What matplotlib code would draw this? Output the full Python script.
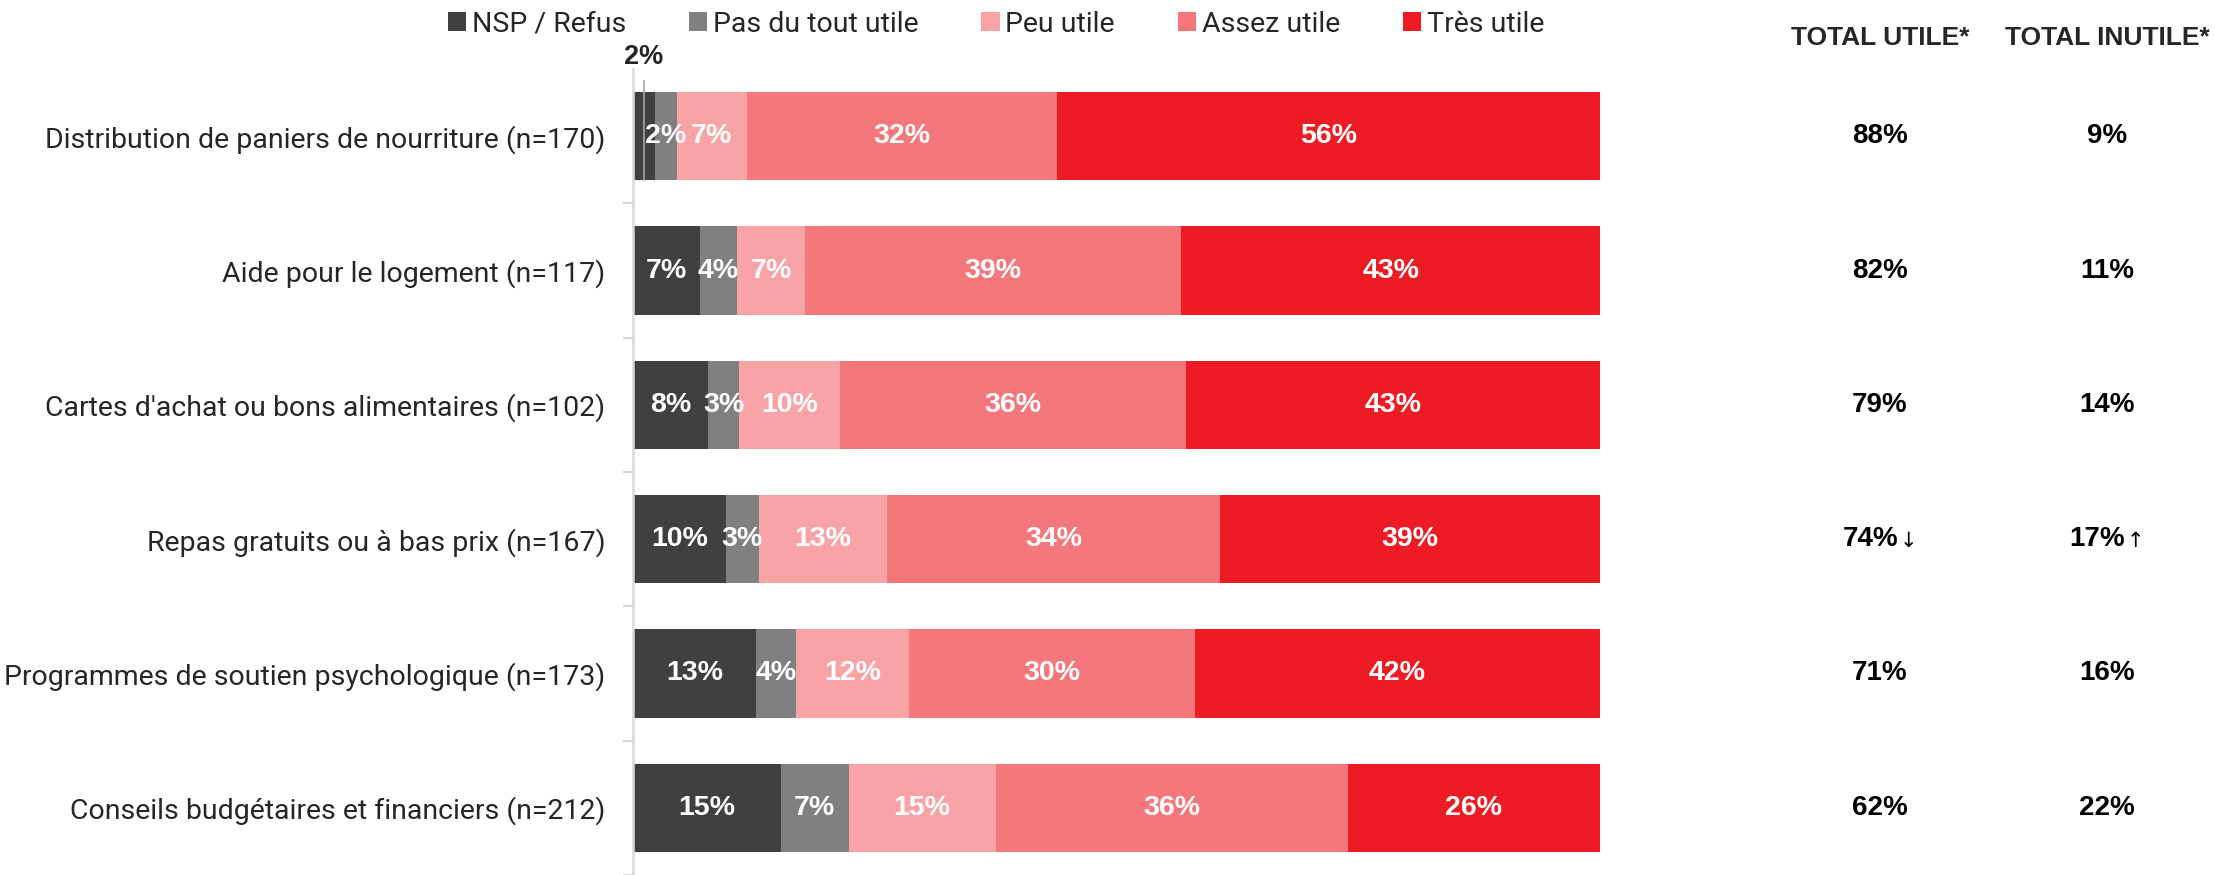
import matplotlib
matplotlib.use("Agg")
import matplotlib.pyplot as plt
import matplotlib.transforms as mtransforms
from matplotlib.patches import Patch

# data (percent of respondents)
categories = [
    "Distribution de paniers de nourriture (n=170)",
    "Aide pour le logement (n=117)",
    "Cartes d'achat ou bons alimentaires (n=102)",
    "Repas gratuits ou à bas prix (n=167)",
    "Programmes de soutien psychologique (n=173)",
    "Conseils budgétaires et financiers (n=212)",
]
series_names = ["NSP / Refus", "Pas du tout utile", "Peu utile", "Assez utile", "Très utile"]
nsp = [2.3, 6.9, 7.8, 9.6, 12.7, 15.3]
pas_du_tout = [2.2, 3.9, 3.2, 3.4, 4.2, 7.0]
peu = [7.3, 7.0, 10.4, 13.3, 11.6, 15.2]
assez = [32.0, 38.9, 35.8, 34.4, 29.6, 36.4]
tres = [56.2, 43.3, 42.8, 39.3, 41.9, 26.1]
total_utile = [88, 82, 79, 74, 71, 62]
total_inutile = [9, 11, 14, 17, 16, 22]
trend_utile = ["", "", "", "↓", "", ""]
trend_inutile = ["", "", "", "↑", "", ""]

colors = ["#404040", "#808080", "#f8a3a6", "#f4777b", "#ed1c24"]
W, H = 2215, 875

fig = plt.figure(figsize=(W / 100, H / 100), dpi=100)
ax = fig.add_axes([633 / W, 0.0, 967 / W, 806 / H])

series = [nsp, pas_du_tout, peu, assez, tres]
y = list(range(len(categories)))
left = [0.0] * len(categories)
for name, vals, col in zip(series_names, series, colors):
    ax.barh(y, vals, left=left, height=0.66, color=col, linewidth=0, label=name)
    for i, v in enumerate(vals):
        cx = left[i] + v / 2
        txt = "%d%%" % round(v)
        if name == "NSP / Refus" and v < 3:
            # too thin: label above the bar with a leader line
            ax.plot([cx, cx], [-0.41, 0.33], color="#a6a6a6", lw=1.2, clip_on=False, zorder=3)
            ax.text(cx, -0.59, txt, ha="center", va="center", fontsize=19.5,
                    fontweight="bold", color="#262626", family="Liberation Sans", clip_on=False)
        else:
            ax.text(cx, i, txt, ha="center", va="center", fontsize=20.5,
                    fontweight="bold", color="white", family="Liberation Sans")
    left = [l + v for l, v in zip(left, vals)]

ax.set_xlim(0, 100)
ax.set_ylim(len(categories) - 0.5, -0.5)
ax.set_yticks(y)
ax.set_yticklabels(categories, fontsize=20.5, color="#262626", family="Roboto")
ax.set_yticks([i + 0.5 for i in y], minor=True)
ax.tick_params(axis="y", which="major", length=0, pad=20)
ax.tick_params(axis="y", which="minor", length=7, width=1.5, color="#d9d9d9")
ax.set_xticks([])
for s in ["top", "right", "bottom"]:
    ax.spines[s].set_visible(False)
ax.spines["left"].set_color("#d9d9d9")
ax.spines["left"].set_linewidth(1.8)

# total columns on the right
trans = mtransforms.blended_transform_factory(fig.transFigure, ax.transData)
cols = [(1880, "TOTAL UTILE*", total_utile, trend_utile),
        (2107, "TOTAL INUTILE*", total_inutile, trend_inutile)]
for xc, head, vals, trends in cols:
    fig.text(xc / W, 1 - 38 / H, head, ha="center", va="center", fontsize=19,
             fontweight="bold", color="#262626", family="Liberation Sans")
    for i, v in enumerate(vals):
        if trends[i]:
            ax.text((xc + 18) / W, i, "%d%%" % v, transform=trans, ha="right", va="center",
                    fontsize=20, fontweight="bold", color="black", family="Liberation Sans")
            ax.text((xc + 20) / W, i + 0.01, trends[i], transform=trans, ha="left", va="center",
                    fontsize=15, color="black", family="DejaVu Sans")
        else:
            ax.text(xc / W, i, "%d%%" % v, transform=trans, ha="center", va="center",
                    fontsize=20, fontweight="bold", color="black", family="Liberation Sans")

handles = [Patch(facecolor=c, edgecolor="none") for c in colors]
leg = fig.legend(handles, series_names, loc="center", bbox_to_anchor=(996 / W, 1 - 24 / H),
                 ncol=5, frameon=False, fontsize=20.5, handlelength=0.65, handleheight=0.65,
                 handletextpad=0.2, columnspacing=2.2, borderpad=0, borderaxespad=0)
for t in leg.get_texts():
    t.set_color("#262626")
    t.set_family("Roboto")

fig.savefig("out.png", dpi=100)
